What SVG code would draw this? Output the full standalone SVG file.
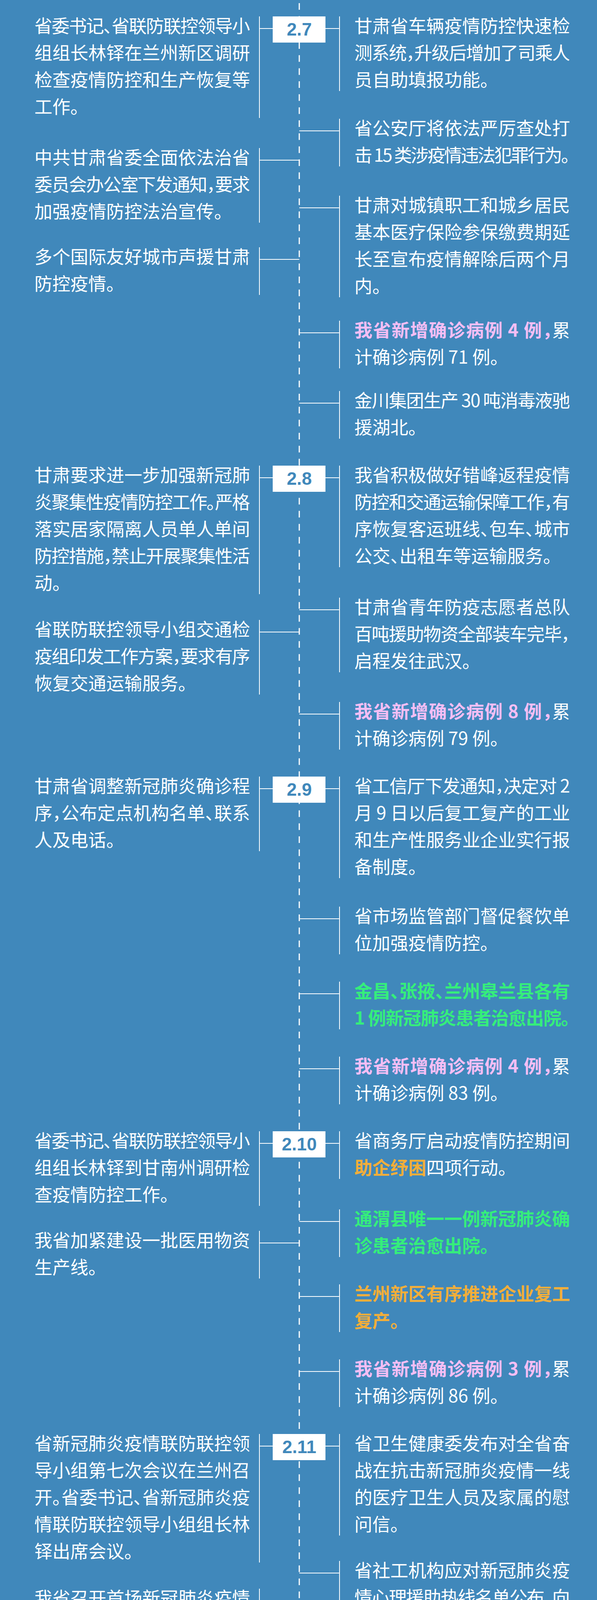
<svg xmlns="http://www.w3.org/2000/svg" width="1528" height="5404" viewBox="0 0 1528 5404">
<style>
.bg{fill:#4088BB}
.t{font-family:"Noto Sans CJK SC","Noto Sans",sans-serif;font-size:46px;fill:#FFFFFF;font-feature-settings:"halt" 1}
.pk{fill:#F4BEF4;font-weight:700}
.gr{fill:#35EE7B;font-weight:700}
.or{fill:#F2AE3A;font-weight:700}
.box{fill:#FFFFFF}
.date{font-family:"Liberation Sans",Arial,sans-serif;font-size:46px;font-weight:700;fill:#4088BB;text-anchor:middle}
.spine{stroke:#FFFFFF;stroke-width:3;stroke-dasharray:17 16.33;fill:none}
.ln{stroke:#FFFFFF;stroke-width:2;fill:none}
</style>
<rect class="bg" x="0" y="0" width="1528" height="5404"/>
<g id="connectors">
<line class="spine" x1="766" y1="8" x2="766" y2="5404"/>
<path class="ln" d="M664 42V302M664 73H698M869 42V233M833 73H869
M664 379V570M664 410H766M664 633V755M664 664H766
M869 304V426M766 335H869M869 501V761M766 532H869M869 821V943M766 852H869M869 1001V1123M766 1032H869
M664 1192V1521M664 1223H698M869 1192V1452M833 1223H869
M664 1587V1778M664 1618H766M869 1530V1721M766 1561H869M869 1797V1919M766 1828H869
M664 1988V2179M664 2019H698M869 1988V2248M833 2019H869
M869 2321V2443M766 2352H869M869 2513V2635M766 2544H869M869 2705V2827M766 2736H869
M664 2896V3087M664 2927H698M869 2896V3018M833 2927H869
M664 3151V3273M664 3182H766M869 3096V3218M766 3127H869M869 3288V3410M766 3319H869M869 3480V3602M766 3511H869
M664 3671V4000M664 3702H698M869 3671V3931M833 3702H869
M664 4067V4327M664 4098H766M869 3996V4256M766 4027H869M869 4324V4584M766 4355H869M869 4655V4777M766 4686H869
M664 4845V5105M664 4876H698M869 4845V4967M833 4876H869
M664 5191V5382M664 5222H766M869 5043V5234M766 5074H869"/>
</g>
<g id="d27"><rect class="box" x="698" y="42" width="135" height="67"/><text class="date" x="766" y="91">2.7</text></g>
<g id="d28"><rect class="box" x="698" y="1192" width="135" height="67"/><text class="date" x="766" y="1241">2.8</text></g>
<g id="d29"><rect class="box" x="698" y="1988" width="135" height="67"/><text class="date" x="766" y="2037">2.9</text></g>
<g id="d210"><rect class="box" x="698" y="2896" width="135" height="67"/><text class="date" x="766" y="2945">2.10</text></g>
<g id="d211"><rect class="box" x="698" y="3671" width="135" height="67"/><text class="date" x="766" y="3720">2.11</text></g>
<g id="d212"><rect class="box" x="698" y="4845" width="135" height="67"/><text class="date" x="766" y="4894">2.12</text></g>

<g id="n27l1" class="t">
<text x="88" y="83" textLength="552" lengthAdjust="spacing">省委书记、省联防联控领导小</text>
<text x="88" y="152" textLength="552" lengthAdjust="spacing">组组长林铎在兰州新区调研</text>
<text x="88" y="221" textLength="552" lengthAdjust="spacing">检查疫情防控和生产恢复等</text>
<text x="88" y="290">工作。</text>
</g>
<g id="n27l2" class="t">
<text x="88" y="420" textLength="552" lengthAdjust="spacing">中共甘肃省委全面依法治省</text>
<text x="88" y="489" textLength="552" lengthAdjust="spacing">委员会办公室下发通知，要求</text>
<text x="88" y="558">加强疫情防控法治宣传。</text>
</g>
<g id="n27l3" class="t">
<text x="88" y="674" textLength="552" lengthAdjust="spacing">多个国际友好城市声援甘肃</text>
<text x="88" y="743">防控疫情。</text>
</g>
<g id="n27r1" class="t">
<text x="907" y="83" textLength="552" lengthAdjust="spacing">甘肃省车辆疫情防控快速检</text>
<text x="907" y="152" textLength="552" lengthAdjust="spacing">测系统，升级后增加了司乘人</text>
<text x="907" y="221">员自助填报功能。</text>
</g>
<g id="n27r2" class="t">
<text x="907" y="345" textLength="552" lengthAdjust="spacing">省公安厅将依法严厉查处打</text>
<text x="907" y="414" textLength="552" lengthAdjust="spacing">击 15 类涉疫情违法犯罪行为。</text>
</g>
<g id="n27r3" class="t">
<text x="907" y="542" textLength="552" lengthAdjust="spacing">甘肃对城镇职工和城乡居民</text>
<text x="907" y="611" textLength="552" lengthAdjust="spacing">基本医疗保险参保缴费期延</text>
<text x="907" y="680" textLength="552" lengthAdjust="spacing">长至宣布疫情解除后两个月</text>
<text x="907" y="749">内。</text>
</g>
<g id="n27r4" class="t">
<text x="907" y="862" textLength="552" lengthAdjust="spacing"><tspan class="pk">我省新增确诊病例 4 例，</tspan>累</text>
<text x="907" y="931">计确诊病例 71 例。</text>
</g>
<g id="n27r5" class="t">
<text x="907" y="1042" textLength="552" lengthAdjust="spacing">金川集团生产 30 吨消毒液驰</text>
<text x="907" y="1111">援湖北。</text>
</g>

<g id="n28l1" class="t">
<text x="88" y="1233" textLength="552" lengthAdjust="spacing">甘肃要求进一步加强新冠肺</text>
<text x="88" y="1302" textLength="552" lengthAdjust="spacing">炎聚集性疫情防控工作。严格</text>
<text x="88" y="1371" textLength="552" lengthAdjust="spacing">落实居家隔离人员单人单间</text>
<text x="88" y="1440" textLength="552" lengthAdjust="spacing">防控措施，禁止开展聚集性活</text>
<text x="88" y="1509">动。</text>
</g>
<g id="n28l2" class="t">
<text x="88" y="1628" textLength="552" lengthAdjust="spacing">省联防联控领导小组交通检</text>
<text x="88" y="1697" textLength="552" lengthAdjust="spacing">疫组印发工作方案，要求有序</text>
<text x="88" y="1766">恢复交通运输服务。</text>
</g>
<g id="n28r1" class="t">
<text x="907" y="1233" textLength="552" lengthAdjust="spacing">我省积极做好错峰返程疫情</text>
<text x="907" y="1302" textLength="552" lengthAdjust="spacing">防控和交通运输保障工作，有</text>
<text x="907" y="1371" textLength="552" lengthAdjust="spacing">序恢复客运班线、包车、城市</text>
<text x="907" y="1440">公交、出租车等运输服务。</text>
</g>
<g id="n28r2" class="t">
<text x="907" y="1571" textLength="552" lengthAdjust="spacing">甘肃省青年防疫志愿者总队</text>
<text x="907" y="1640" textLength="552" lengthAdjust="spacing">百吨援助物资全部装车完毕，</text>
<text x="907" y="1709">启程发往武汉。</text>
</g>
<g id="n28r3" class="t">
<text x="907" y="1838" textLength="552" lengthAdjust="spacing"><tspan class="pk">我省新增确诊病例 8 例，</tspan>累</text>
<text x="907" y="1907">计确诊病例 79 例。</text>
</g>

<g id="n29l1" class="t">
<text x="88" y="2029" textLength="552" lengthAdjust="spacing">甘肃省调整新冠肺炎确诊程</text>
<text x="88" y="2098" textLength="552" lengthAdjust="spacing">序，公布定点机构名单、联系</text>
<text x="88" y="2167">人及电话。</text>
</g>
<g id="n29r1" class="t">
<text x="907" y="2029" textLength="552" lengthAdjust="spacing">省工信厅下发通知，决定对 2</text>
<text x="907" y="2098" textLength="552" lengthAdjust="spacing">月 9 日以后复工复产的工业</text>
<text x="907" y="2167" textLength="552" lengthAdjust="spacing">和生产性服务业企业实行报</text>
<text x="907" y="2236">备制度。</text>
</g>
<g id="n29r2" class="t">
<text x="907" y="2362" textLength="552" lengthAdjust="spacing">省市场监管部门督促餐饮单</text>
<text x="907" y="2431">位加强疫情防控。</text>
</g>
<g id="n29r3" class="t">
<text class="gr" x="907" y="2554" textLength="552" lengthAdjust="spacing">金昌、张掖、兰州皋兰县各有</text>
<text class="gr" x="907" y="2623" textLength="552" lengthAdjust="spacing">1 例新冠肺炎患者治愈出院。</text>
</g>
<g id="n29r4" class="t">
<text x="907" y="2746" textLength="552" lengthAdjust="spacing"><tspan class="pk">我省新增确诊病例 4 例，</tspan>累</text>
<text x="907" y="2815">计确诊病例 83 例。</text>
</g>

<g id="n210l1" class="t">
<text x="88" y="2937" textLength="552" lengthAdjust="spacing">省委书记、省联防联控领导小</text>
<text x="88" y="3006" textLength="552" lengthAdjust="spacing">组组长林铎到甘南州调研检</text>
<text x="88" y="3075">查疫情防控工作。</text>
</g>
<g id="n210l2" class="t">
<text x="88" y="3192" textLength="552" lengthAdjust="spacing">我省加紧建设一批医用物资</text>
<text x="88" y="3261">生产线。</text>
</g>
<g id="n210r1" class="t">
<text x="907" y="2937" textLength="552" lengthAdjust="spacing">省商务厅启动疫情防控期间</text>
<text x="907" y="3006"><tspan class="or">助企纾困</tspan>四项行动。</text>
</g>
<g id="n210r2" class="t">
<text class="gr" x="907" y="3137" textLength="552" lengthAdjust="spacing">通渭县唯一一例新冠肺炎确</text>
<text class="gr" x="907" y="3206">诊患者治愈出院。</text>
</g>
<g id="n210r3" class="t">
<text class="or" x="907" y="3329" textLength="552" lengthAdjust="spacing">兰州新区有序推进企业复工</text>
<text class="or" x="907" y="3398">复产。</text>
</g>
<g id="n210r4" class="t">
<text x="907" y="3521" textLength="552" lengthAdjust="spacing"><tspan class="pk">我省新增确诊病例 3 例，</tspan>累</text>
<text x="907" y="3590">计确诊病例 86 例。</text>
</g>

<g id="n211l1" class="t">
<text x="88" y="3712" textLength="552" lengthAdjust="spacing">省新冠肺炎疫情联防联控领</text>
<text x="88" y="3781" textLength="552" lengthAdjust="spacing">导小组第七次会议在兰州召</text>
<text x="88" y="3850" textLength="552" lengthAdjust="spacing">开。省委书记、省新冠肺炎疫</text>
<text x="88" y="3919" textLength="552" lengthAdjust="spacing">情联防联控领导小组组长林</text>
<text x="88" y="3988">铎出席会议。</text>
</g>
<g id="n211l2" class="t">
<text x="88" y="4108" textLength="552" lengthAdjust="spacing">我省召开首场新冠肺炎疫情</text>
<text x="88" y="4177" textLength="552" lengthAdjust="spacing">防控工作新闻发布会，介绍新</text>
<text x="88" y="4246" textLength="552" lengthAdjust="spacing">冠肺炎疫情防控工作的有关</text>
<text x="88" y="4315">情况。</text>
</g>
<g id="n211r1" class="t">
<text x="907" y="3712" textLength="552" lengthAdjust="spacing">省卫生健康委发布对全省奋</text>
<text x="907" y="3781" textLength="552" lengthAdjust="spacing">战在抗击新冠肺炎疫情一线</text>
<text x="907" y="3850" textLength="552" lengthAdjust="spacing">的医疗卫生人员及家属的慰</text>
<text x="907" y="3919">问信。</text>
</g>
<g id="n211r2" class="t">
<text x="907" y="4037" textLength="552" lengthAdjust="spacing">省社工机构应对新冠肺炎疫</text>
<text x="907" y="4106" textLength="552" lengthAdjust="spacing">情心理援助热线名单公布，向</text>
<text x="907" y="4175" textLength="552" lengthAdjust="spacing">公众义务提供心理咨询、心理</text>
<text x="907" y="4244">疏导等服务。</text>
</g>
<g id="n211r3" class="t">
<text class="gr" x="907" y="4365" textLength="552" lengthAdjust="spacing">甘南州首例痊愈新冠肺炎患</text>
<text class="gr" x="907" y="4434" textLength="552" lengthAdjust="spacing">者出院；庆阳首例新冠肺炎</text>
<text class="gr" x="907" y="4503" textLength="552" lengthAdjust="spacing">患者治愈出院；天水又一例</text>
<text class="gr" x="907" y="4572">新冠肺炎患者治愈出院。</text>
</g>
<g id="n211r4" class="t">
<text x="907" y="4696" textLength="552" lengthAdjust="spacing"><tspan class="pk">我省新增确诊病例 0 例，</tspan>累</text>
<text x="907" y="4765">计确诊病例 86 例。</text>
</g>

<g id="n212l1" class="t">
<text x="88" y="4886" textLength="552" lengthAdjust="spacing">省纪委监委派驻机构在疫情</text>
<text x="88" y="4955" textLength="552" lengthAdjust="spacing">防控第一线擦亮“探头”，以严</text>
<text x="88" y="5024" textLength="552" lengthAdjust="spacing">明的纪律推动疫情防控工作</text>
<text x="88" y="5093">落到实处。</text>
</g>
<g id="n212l2" class="t">
<text x="88" y="5232" textLength="552" lengthAdjust="spacing">省委组织部注重在疫情防控</text>
<text x="88" y="5301" textLength="552" lengthAdjust="spacing">一线考察了解领导班子和领</text>
<text x="88" y="5370">导干部。</text>
</g>
<g id="n212r1" class="t">
<text class="gr" x="907" y="4886" textLength="552" lengthAdjust="spacing">天水又有 4 例新冠肺炎患</text>
<text class="gr" x="907" y="4955">者治愈出院。</text>
</g>
<g id="n212r2" class="t">
<text x="907" y="5084" textLength="552" lengthAdjust="spacing"><tspan class="pk">我省新增确诊病例 1 例，</tspan>累</text>
<text x="907" y="5153" textLength="552" lengthAdjust="spacing">计确诊病例 87 例。<tspan class="or">已有 31</tspan></text>
<text class="or" x="907" y="5222">例新冠肺炎患者治愈出院。</text>
</g>
</svg>
